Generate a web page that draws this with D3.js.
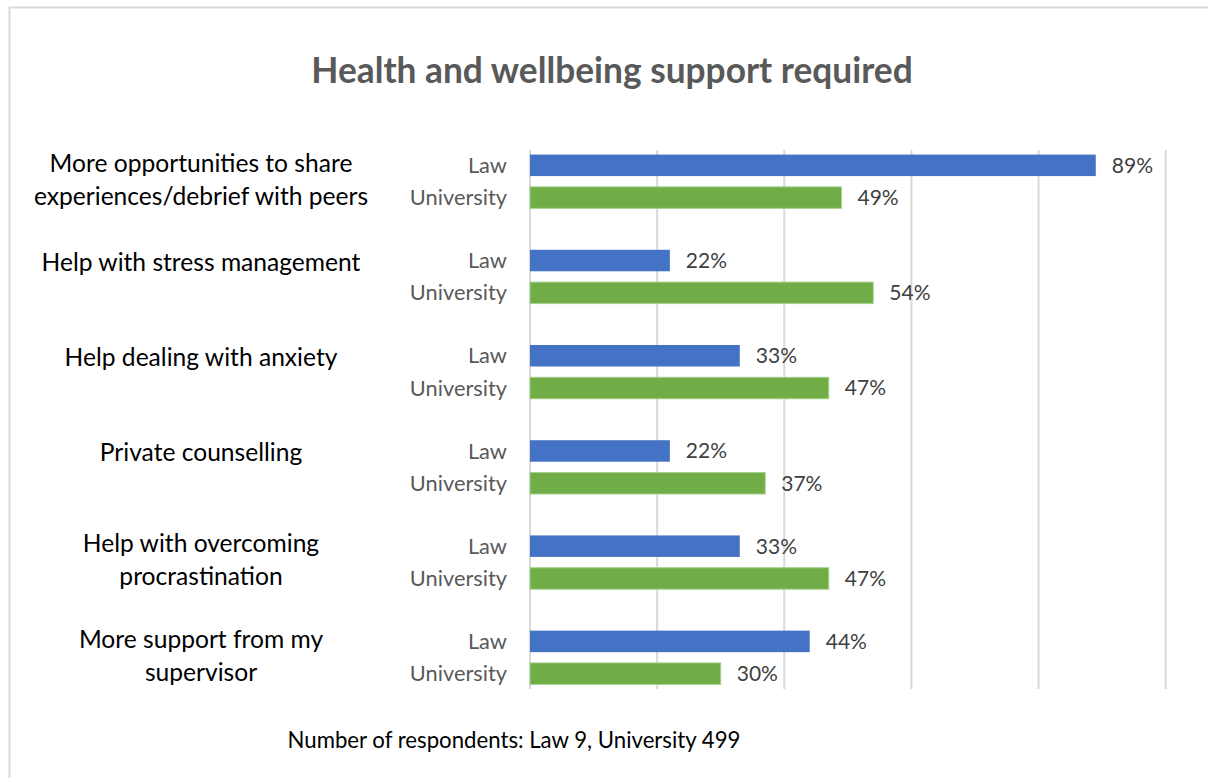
<!DOCTYPE html>
<html>
<head>
<meta charset="utf-8">
<script src="https://cdn.jsdelivr.net/npm/d3@7"></script>
<style>
  html, body { margin: 0; padding: 0; background: #fff; }
  svg { display: block; font-family: Lato, "Open Sans", sans-serif; }
</style>
</head>
<body>
<svg id="chart" width="1208" height="778"></svg>
<script>
// Survey categories (each may wrap onto two lines)
const categories = [
  ["More opportunities to share", "experiences/debrief with peers"],
  ["Help with stress management"],
  ["Help dealing with anxiety"],
  ["Private counselling"],
  ["Help with overcoming", "procrastination"],
  ["More support from my", "supervisor"]
];
const seriesNames = ["Law", "University"];
const lawValues = [89, 22, 33, 22, 33, 44];
const universityValues = [49, 54, 47, 37, 47, 30];
const xTicks = [0, 20, 40, 60, 80, 100];
const seriesColors = ["#4472C4", "#70AD47"];
const titleText = "Health and wellbeing support required";
const footnoteText = "Number of respondents: Law 9, University 499";

const svg = d3.select("#chart");

// chart frame
svg.append("rect")
  .attr("x", 9.5).attr("y", 7.5)
  .attr("width", 1260).attr("height", 820)
  .attr("fill", "none").attr("stroke", "#D9D9D9").attr("stroke-width", 2);

const plot = { left: 530, right: 1165.7, top: 150, bottom: 689 };

const x = d3.scaleLinear().domain([0, 100]).range([plot.left, plot.right]);
const y = d3.scaleBand()
  .domain(d3.range(categories.length))
  .range([plot.top, plot.bottom])
  .paddingInner(0.435)
  .paddingOuter(0.048);
const ySub = d3.scaleBand()
  .domain(seriesNames)
  .range([0, y.bandwidth()])
  .paddingInner(0.334)
  .paddingOuter(0);

// vertical gridlines
svg.append("g")
  .selectAll("line")
  .data(xTicks)
  .join("line")
  .attr("x1", d => x(d)).attr("x2", d => x(d))
  .attr("y1", plot.top).attr("y2", plot.bottom)
  .attr("stroke", "#D9D9D9").attr("stroke-width", 2);

// title
svg.append("text")
  .attr("x", 612).attr("y", 71)
  .attr("dy", "0.35em")
  .attr("text-anchor", "middle")
  .attr("font-size", 35.3).attr("font-weight", "bold")
  .attr("fill", "#595959")
  .text(titleText);

const rows = categories.map((c, i) => ({
  i, label: c,
  values: [
    { name: seriesNames[0], value: lawValues[i], color: seriesColors[0] },
    { name: seriesNames[1], value: universityValues[i], color: seriesColors[1] }
  ]
}));

const group = svg.append("g")
  .selectAll("g")
  .data(rows)
  .join("g")
  .attr("transform", d => `translate(0,${y(d.i)})`);

// outer category labels, laid out in a two-line box
group.append("text")
  .attr("x", 201)
  .attr("text-anchor", "middle")
  .attr("font-size", 24.6)
  .attr("fill", "#000")
  .each(function(d) {
    const t = d3.select(this);
    const lh = 33;
    const mid = y.bandwidth() / 2 - 2;
    const start = mid - lh / 2 + (d.label.length === 1 ? 4 : 0);
    d.label.forEach((line, k) => {
      t.append("tspan")
        .attr("x", 201)
        .attr("y", start + k * lh)
        .attr("dy", "0.35em")
        .text(line);
    });
  });

const bar = group.selectAll("g.bar")
  .data(d => d.values)
  .join("g")
  .attr("class", "bar")
  .attr("transform", d => `translate(0,${ySub(d.name)})`);

bar.append("rect")
  .attr("x", x(0))
  .attr("y", 0)
  .attr("width", d => x(d.value) - x(0))
  .attr("height", ySub.bandwidth())
  .attr("fill", d => d.color)
  .attr("stroke", (d, k) => k === 1 ? "#A9D18E" : "none")
  .attr("stroke-width", 1);

// series labels next to the axis
bar.append("text")
  .attr("x", 507)
  .attr("y", ySub.bandwidth() / 2)
  .attr("dy", "0.35em")
  .attr("text-anchor", "end")
  .attr("font-size", 21.8)
  .attr("fill", "#595959")
  .text(d => d.name);

// value labels
bar.append("text")
  .attr("x", d => x(d.value) + 16)
  .attr("y", ySub.bandwidth() / 2)
  .attr("dy", "0.35em")
  .attr("font-size", 21)
  .attr("fill", "#404040")
  .text(d => d.value + "%");

// footnote
svg.append("text")
  .attr("x", 514).attr("y", 740)
  .attr("dy", "0.35em")
  .attr("text-anchor", "middle")
  .attr("font-size", 22.2)
  .attr("fill", "#000")
  .text(footnoteText);
</script>
</body>
</html>
